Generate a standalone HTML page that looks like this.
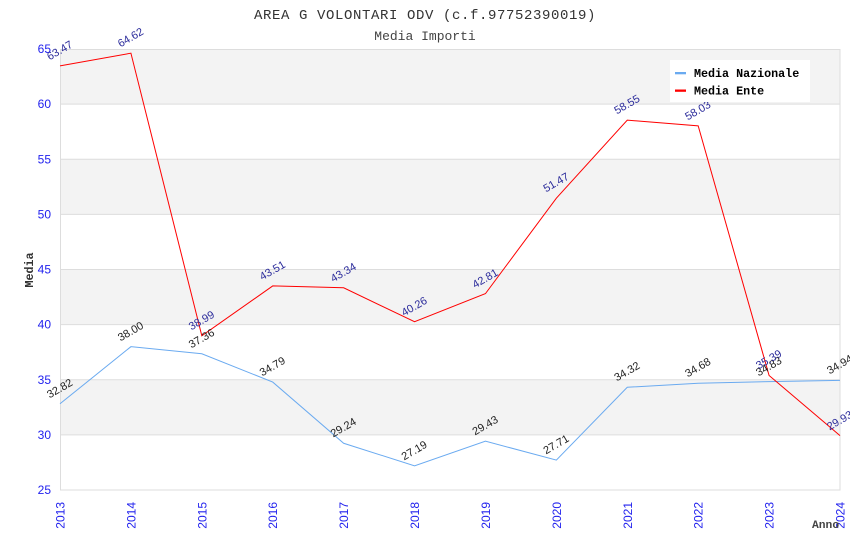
<!DOCTYPE html>
<html><head><meta charset="utf-8"><style>
html,body{margin:0;padding:0;background:#fff;}
svg{display:block;}
</style></head><body>
<svg width="850" height="550" viewBox="0 0 850 550" xmlns="http://www.w3.org/2000/svg">
<rect width="850" height="550" fill="#fff"/>
<text x="425" y="19" text-anchor="middle" font-family="Liberation Mono, DejaVu Sans Mono, monospace" font-size="14" letter-spacing="0.6" fill="#333">AREA G VOLONTARI ODV (c.f.97752390019)</text>
<text x="425" y="40" text-anchor="middle" font-family="Liberation Mono, DejaVu Sans Mono, monospace" font-size="13" fill="#444">Media Importi</text>
<!-- bands -->
<g fill="#f3f3f3">
<rect x="60" y="49" width="780" height="55.1"/>
<rect x="60" y="159.3" width="780" height="55.1"/>
<rect x="60" y="269.5" width="780" height="55.1"/>
<rect x="60" y="379.8" width="780" height="55.1"/>
</g>
<g stroke="#dddddd" stroke-width="1" fill="none">
<line x1="60" y1="104.1" x2="840" y2="104.1"/>
<line x1="60" y1="159.3" x2="840" y2="159.3"/>
<line x1="60" y1="214.4" x2="840" y2="214.4"/>
<line x1="60" y1="269.5" x2="840" y2="269.5"/>
<line x1="60" y1="324.6" x2="840" y2="324.6"/>
<line x1="60" y1="379.8" x2="840" y2="379.8"/>
<line x1="60" y1="434.9" x2="840" y2="434.9"/>
<rect x="60.5" y="49.5" width="779.5" height="440.5"/>
</g>
<!-- y ticks -->
<g font-family="Liberation Sans, Arial, sans-serif" font-size="12" fill="#2222ee" text-anchor="end" dominant-baseline="central">
<text x="51" y="49">65</text>
<text x="51" y="104.1">60</text>
<text x="51" y="159.3">55</text>
<text x="51" y="214.4">50</text>
<text x="51" y="269.5">45</text>
<text x="51" y="324.6">40</text>
<text x="51" y="379.8">35</text>
<text x="51" y="434.9">30</text>
<text x="51" y="490">25</text>
</g>
<!-- x ticks -->
<g font-family="Liberation Sans, Arial, sans-serif" font-size="12" fill="#2222ee" text-anchor="end">
<text transform="translate(64.5,502) rotate(-90)">2013</text>
<text transform="translate(135.4,502) rotate(-90)">2014</text>
<text transform="translate(206.3,502) rotate(-90)">2015</text>
<text transform="translate(277.2,502) rotate(-90)">2016</text>
<text transform="translate(348.1,502) rotate(-90)">2017</text>
<text transform="translate(419,502) rotate(-90)">2018</text>
<text transform="translate(490,502) rotate(-90)">2019</text>
<text transform="translate(560.9,502) rotate(-90)">2020</text>
<text transform="translate(631.8,502) rotate(-90)">2021</text>
<text transform="translate(702.7,502) rotate(-90)">2022</text>
<text transform="translate(773.6,502) rotate(-90)">2023</text>
<text transform="translate(844.5,502) rotate(-90)">2024</text>
</g>
<text x="812" y="528" font-family="Liberation Mono, DejaVu Sans Mono, monospace" font-size="11.3" font-weight="bold" fill="#444">Anno</text>
<text transform="translate(33,270) rotate(-90)" text-anchor="middle" font-family="Liberation Mono, DejaVu Sans Mono, monospace" font-size="11.7" font-weight="bold" fill="#333">Media</text>
<!-- series -->
<polyline fill="none" stroke="#6aaaf0" stroke-width="1" points="60,403.78 130.91,346.68 201.82,353.73 272.73,382.07 343.64,443.25 414.55,465.86 485.45,441.16 556.36,460.12 627.27,387.25 698.18,383.28 769.09,381.62 840,380.4"/>
<polyline fill="none" stroke="#ff0000" stroke-width="1" points="60,65.87 130.91,53.19 201.82,335.76 272.73,285.93 343.64,287.8 414.55,321.76 485.45,293.64 556.36,198.17 627.27,120.11 698.18,125.84 769.09,375.45 840,435.65"/>
<!-- labels nazionale -->
<g font-family="Liberation Sans, Arial, sans-serif" font-size="11" fill="#222" text-anchor="middle" dominant-baseline="central">
<text transform="translate(60,389) rotate(-30)">32.82</text>
<text transform="translate(130.91,332) rotate(-30)">38.00</text>
<text transform="translate(201.82,339) rotate(-30)">37.36</text>
<text transform="translate(272.73,367) rotate(-30)">34.79</text>
<text transform="translate(343.64,428) rotate(-30)">29.24</text>
<text transform="translate(414.55,451) rotate(-30)">27.19</text>
<text transform="translate(485.45,426) rotate(-30)">29.43</text>
<text transform="translate(556.36,445) rotate(-30)">27.71</text>
<text transform="translate(627.27,372) rotate(-30)">34.32</text>
<text transform="translate(698.18,368) rotate(-30)">34.68</text>
<text transform="translate(769.09,367) rotate(-30)">34.83</text>
<text transform="translate(840,365) rotate(-30)">34.94</text>
</g>
<!-- labels ente -->
<g font-family="Liberation Sans, Arial, sans-serif" font-size="11" fill="#2b2b9b" text-anchor="middle" dominant-baseline="central">
<text transform="translate(60,51) rotate(-30)">63.47</text>
<text transform="translate(130.91,38) rotate(-30)">64.62</text>
<text transform="translate(201.82,321) rotate(-30)">38.99</text>
<text transform="translate(272.73,271) rotate(-30)">43.51</text>
<text transform="translate(343.64,273) rotate(-30)">43.34</text>
<text transform="translate(414.55,307) rotate(-30)">40.26</text>
<text transform="translate(485.45,279) rotate(-30)">42.81</text>
<text transform="translate(556.36,183) rotate(-30)">51.47</text>
<text transform="translate(627.27,105) rotate(-30)">58.55</text>
<text transform="translate(698.18,111) rotate(-30)">58.03</text>
<text transform="translate(769.09,360) rotate(-30)">35.39</text>
<text transform="translate(840,421) rotate(-30)">29.93</text>
</g>
<!-- legend -->
<rect x="670" y="60" width="140" height="42" fill="#fff"/>
<rect x="675" y="72" width="11" height="2.3" fill="#6aaaf0"/>
<rect x="675" y="89.5" width="11" height="2.3" fill="#ff0000"/>
<g font-family="Liberation Mono, DejaVu Sans Mono, monospace" font-size="11.7" font-weight="bold" fill="#000">
<text x="694" y="77">Media Nazionale</text>
<text x="694" y="94.5">Media Ente</text>
</g>
</svg>
</body></html>
